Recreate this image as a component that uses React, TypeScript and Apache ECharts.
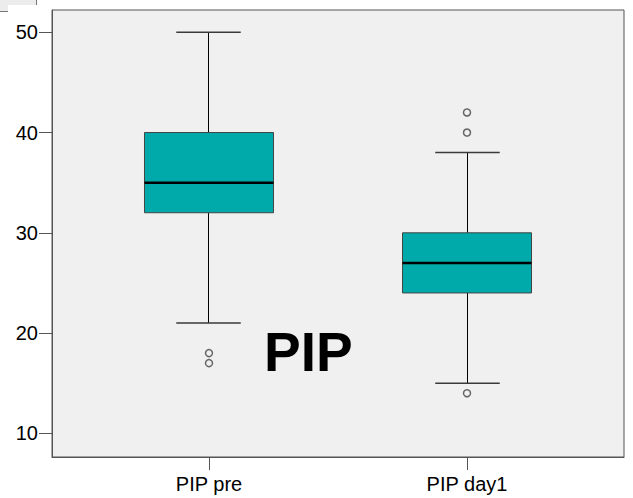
import React, { useEffect, useRef } from "react";
import * as echarts from "echarts";

const categories = ["PIP pre", "PIP day1"];
const whiskerLow = [21, 15];
const q1Values = [32, 24];
const medians = [35, 27];
const q3Values = [40, 30];
const whiskerHigh = [50, 38];
const outliers: [number, number][] = [
  [0, 18],
  [0, 17],
  [1, 42],
  [1, 40],
  [1, 14],
];
const yTicks = [10, 20, 30, 40, 50];
const annotation = "PIP";

const FONT = '"Liberation Sans", Arial, Helvetica, sans-serif';

export default function App() {
  const ref = useRef<HTMLDivElement>(null);
  useEffect(() => {
    if (!ref.current) return;
    const chart = echarts.init(ref.current, null, { renderer: "svg" });
    const boxData = categories.map((_, i) => [
      i,
      whiskerLow[i],
      q1Values[i],
      medians[i],
      q3Values[i],
      whiskerHigh[i],
    ]);
    const option: any = {
      animation: false,
      backgroundColor: "#ffffff",
      grid: {
        left: 52,
        top: 10,
        right: 9,
        bottom: 41,
        show: true,
        backgroundColor: "#f0f0f0",
        borderColor: "#555555",
        borderWidth: 1,
      },
      xAxis: {
        type: "value",
        min: -0.6085,
        max: 1.6085,
        splitLine: { show: false },
        axisLine: { show: true, onZero: false, lineStyle: { color: "#555555", width: 1 } },
        axisTick: {
          show: true,
          customValues: categories.map((_, i) => i),
          length: 13,
          inside: false,
          lineStyle: { color: "#555555", width: 1 },
        },
        axisLabel: {
          customValues: categories.map((_, i) => i),
          formatter: (v: number) => categories[Math.round(v)] ?? "",
          margin: 17,
          color: "#000000",
          fontSize: 20,
          fontFamily: FONT,
        },
      },
      yAxis: {
        type: "value",
        min: 7.64,
        max: 52.22,
        splitLine: { show: false },
        axisLine: { show: true, onZero: false, lineStyle: { color: "#555555", width: 1 } },
        axisTick: {
          show: true,
          customValues: yTicks,
          length: 13,
          inside: false,
          lineStyle: { color: "#555555", width: 1 },
        },
        axisLabel: {
          customValues: yTicks,
          margin: 14,
          color: "#000000",
          fontSize: 20,
          fontFamily: FONT,
          padding: [8, 0, 0, 0],
        },
      },
      series: [
        {
          type: "custom",
          data: boxData,
          encode: { x: 0, y: [1, 2, 3, 4, 5] },
          z: 2,
          renderItem: (params: any, api: any) => {
            const x = api.value(0);
            const lo = api.coord([x, api.value(1)]);
            const q1 = api.coord([x, api.value(2)]);
            const med = api.coord([x, api.value(3)]);
            const q3 = api.coord([x, api.value(4)]);
            const hi = api.coord([x, api.value(5)]);
            const cx = Math.floor(lo[0]) + 0.5;
            const hb = api.coord([x + 0.25, api.value(3)])[0] - lo[0];
            const hc = api.coord([x + 0.125, api.value(3)])[0] - lo[0];
            return {
              type: "group",
              children: [
                {
                  type: "line",
                  shape: { x1: cx, y1: hi[1], x2: cx, y2: q3[1] },
                  style: { stroke: "#000000", lineWidth: 1 },
                },
                {
                  type: "line",
                  shape: { x1: cx, y1: q1[1], x2: cx, y2: lo[1] },
                  style: { stroke: "#000000", lineWidth: 1 },
                },
                {
                  type: "line",
                  shape: { x1: cx - hc, y1: hi[1], x2: cx + hc, y2: hi[1] },
                  style: { stroke: "#3a3a3a", lineWidth: 1.5 },
                },
                {
                  type: "line",
                  shape: { x1: cx - hc, y1: lo[1], x2: cx + hc, y2: lo[1] },
                  style: { stroke: "#3a3a3a", lineWidth: 1.5 },
                },
                {
                  type: "rect",
                  shape: {
                    x: lo[0] - hb,
                    y: q3[1],
                    width: 2 * hb,
                    height: q1[1] - q3[1],
                  },
                  style: { fill: "#00aaaa", stroke: "#444444", lineWidth: 1 },
                },
                {
                  type: "line",
                  shape: { x1: lo[0] - hb, y1: med[1], x2: lo[0] + hb, y2: med[1] },
                  style: { stroke: "#000000", lineWidth: 2.5 },
                },
              ],
            };
          },
        },
        {
          type: "scatter",
          data: outliers,
          symbol: "circle",
          symbolSize: 7,
          z: 3,
          itemStyle: {
            color: "#f0f0f0",
            borderColor: "#444444",
            borderWidth: 1.5,
          },
        },
      ],
      graphic: [
        {
          type: "rect",
          z: 100,
          shape: { x: 0, y: 0, width: 36, height: 11 },
          style: { fill: "#ececec" },
        },
        {
          type: "rect",
          z: 101,
          shape: { x: 8, y: 5, width: 28, height: 7 },
          style: { fill: "#ffffff" },
        },
        {
          type: "line",
          z: 102,
          shape: { x1: 0, y1: 11.5, x2: 8, y2: 11.5 },
          style: { stroke: "#777777", lineWidth: 1 },
        },
        {
          type: "line",
          z: 102,
          shape: { x1: 36.5, y1: 0, x2: 36.5, y2: 5 },
          style: { stroke: "#777777", lineWidth: 1 },
        },
        {
          type: "text",
          z: 100,
          x: 264,
          y: 352,
          style: {
            text: annotation,
            fontSize: 55,
            fontWeight: "bold",
            fontFamily: FONT,
            fill: "#000000",
            align: "left",
            verticalAlign: "middle",
          },
        },
      ],
    };
    chart.setOption(option);
    return () => chart.dispose();
  }, []);
  return (
    <div
      ref={ref}
      style={{ position: "fixed", left: 0, top: 0, width: 633, height: 498 }}
    />
  );
}
